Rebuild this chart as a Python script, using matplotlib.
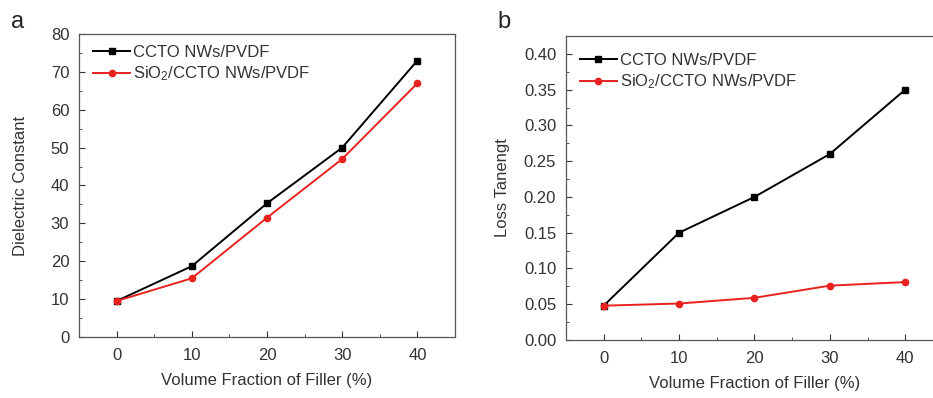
import matplotlib
matplotlib.use("Agg")
import matplotlib.pyplot as plt
from matplotlib.ticker import MultipleLocator

plt.rcParams['font.family'] = ['Liberation Sans', 'DejaVu Sans']
plt.rcParams['mathtext.fontset'] = 'custom'
plt.rcParams['mathtext.rm'] = 'Liberation Sans'
plt.rcParams['mathtext.it'] = 'Liberation Sans'

# Data
filler = [0, 10, 20, 30, 40]
eps_ccto = [9.5, 18.7, 35.3, 50.0, 73.0]
eps_sio2 = [9.5, 15.5, 31.5, 47.0, 67.0]
tan_ccto = [0.048, 0.150, 0.200, 0.260, 0.350]
tan_sio2 = [0.048, 0.051, 0.059, 0.076, 0.081]

label_ccto = "CCTO NWs/PVDF"
label_sio2 = "SiO$_2$/CCTO NWs/PVDF"
text_col = '#333333'

fig = plt.figure(figsize=(9.33, 3.98), dpi=100)
ax_a = fig.add_axes([0.0847, 0.1533, 0.403, 0.7613])
ax_b = fig.add_axes([0.6066, 0.1457, 0.404, 0.7638])


def style_axis(ax, leg_y):
    ax.set_xlim(-5, 45)
    ax.xaxis.set_major_locator(MultipleLocator(10))
    ax.xaxis.set_minor_locator(MultipleLocator(5))
    ax.tick_params(which='both', direction='in', colors=text_col, labelsize=12)
    ax.tick_params(which='major', length=4)
    ax.tick_params(which='minor', length=2)
    ax.tick_params(axis='x', pad=8)
    ax.tick_params(axis='y', pad=7)
    for s in ax.spines.values():
        s.set_color('#555555')
        s.set_linewidth(0.9)
    ax.set_xlabel("Volume Fraction of Filler (%)", fontsize=12, color=text_col, labelpad=7)
    leg = ax.legend(loc='upper left', bbox_to_anchor=(0.02, leg_y), frameon=False, fontsize=12,
                    handlelength=2.2, handletextpad=0.2, labelspacing=0.25, borderaxespad=0.0)
    for t in leg.get_texts():
        t.set_color(text_col)


# Panel a
ax_a.plot(filler, eps_ccto, color='black', marker='s', markersize=4, linewidth=1.4, label=label_ccto)
ax_a.plot(filler, eps_sio2, color='#e8231f', marker='o', markersize=4.5, linewidth=1.4, label=label_sio2)
ax_a.set_ylim(0, 80)
ax_a.yaxis.set_major_locator(MultipleLocator(10))
ax_a.yaxis.set_minor_locator(MultipleLocator(5))
ax_a.set_ylabel("Dielectric Constant", fontsize=12, color=text_col, labelpad=16)
style_axis(ax_a, 0.985)

# Panel b
ax_b.plot(filler, tan_ccto, color='black', marker='s', markersize=4, linewidth=1.4, label=label_ccto)
ax_b.plot(filler, tan_sio2, color='#e8231f', marker='o', markersize=4.5, linewidth=1.4, label=label_sio2)
ax_b.set_ylim(0, 0.425)
ax_b.yaxis.set_major_locator(MultipleLocator(0.05))
ax_b.yaxis.set_minor_locator(MultipleLocator(0.025))
ax_b.yaxis.set_major_formatter(matplotlib.ticker.FormatStrFormatter('%.2f'))
ax_b.set_ylabel("Loss Tanengt", fontsize=12, color=text_col, labelpad=10)
style_axis(ax_b, 0.965)

fig.text(0.012, 0.93, "a", fontsize=17, color='#222222')
fig.text(0.533, 0.93, "b", fontsize=17, color='#222222')

fig.savefig("out.png", dpi=100)
